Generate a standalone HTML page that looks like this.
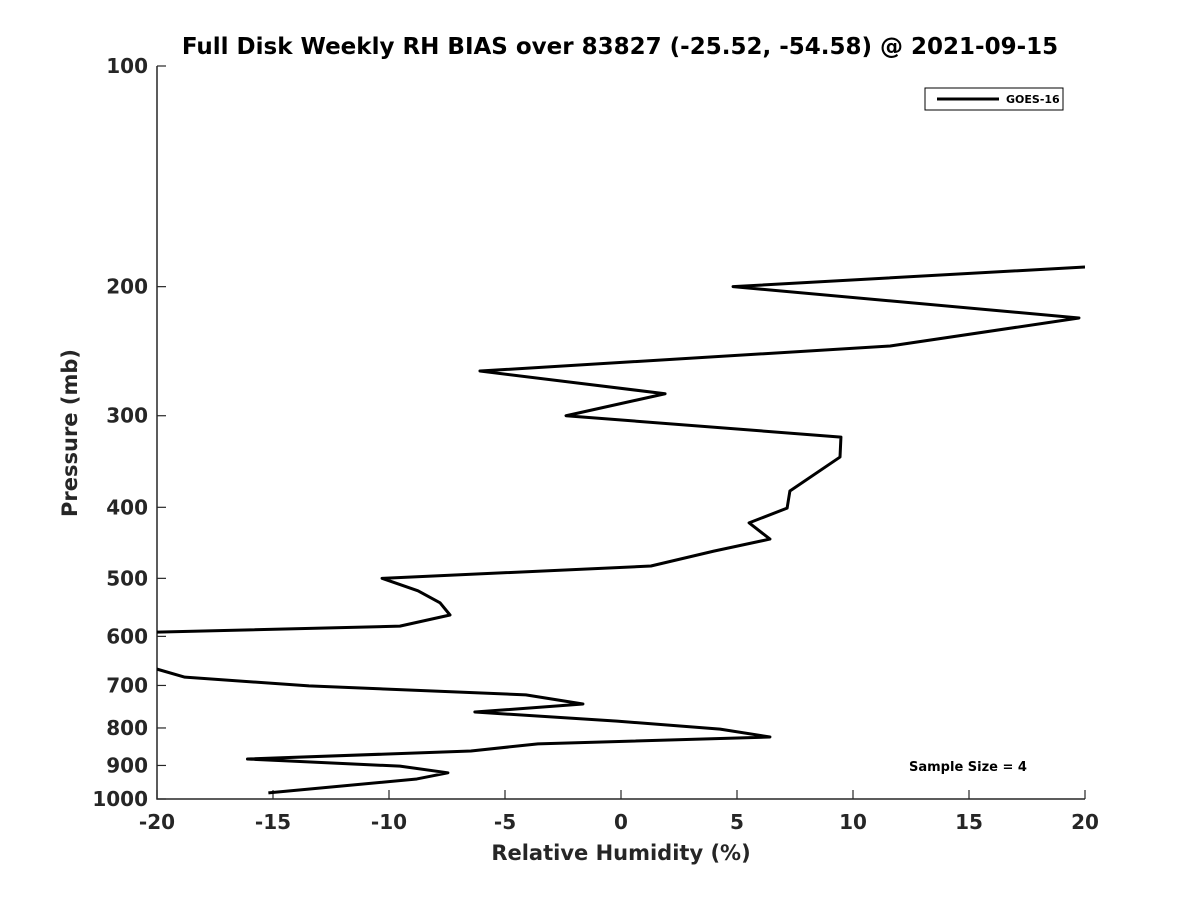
<!DOCTYPE html>
<html><head><meta charset="utf-8"><style>
body{margin:0;background:#fff;}
svg text{font-family:"DejaVu Sans","Liberation Sans",sans-serif;font-weight:bold;fill:#262626;}
</style></head><body>
<svg id="chart" width="1200" height="900" xmlns="http://www.w3.org/2000/svg">
<defs><clipPath id="plotclip"><rect x="157" y="66" width="928" height="733"/></clipPath></defs>
<text x="620" y="54" font-size="23" text-anchor="middle" style="fill:#000">Full Disk Weekly RH BIAS over 83827 (-25.52, -54.58) @ 2021-09-15</text>
<g id="axes"></g>
<polyline id="series" clip-path="url(#plotclip)" fill="none" stroke="#000" stroke-width="3" stroke-linejoin="round"/>
<g>
<rect x="925" y="88" width="138" height="22" fill="#fff" stroke="#000" stroke-width="1"/>
<line x1="937" y1="99" x2="999" y2="99" stroke="#000" stroke-width="3"/>
<text x="1006" y="103" font-size="11" style="fill:#000">GOES-16</text>
</g>
<text x="968" y="771" font-size="13" text-anchor="middle" style="fill:#000">Sample Size = 4</text>
<text x="621" y="860" font-size="21" text-anchor="middle">Relative Humidity (%)</text>
<text transform="translate(77,433) rotate(-90)" font-size="21" text-anchor="middle">Pressure (mb)</text>
</svg>
<script>
const xTicks=[-20,-15,-10,-5,0,5,10,15,20];
const yTicks=[100,200,300,400,500,600,700,800,900,1000];
const rhBias=[20,4.83,19.74,11.6,-6.08,1.9,-2.37,9.48,9.44,7.28,7.16,5.52,6.42,4.0,1.29,-10.3,-8.75,-7.8,-7.37,-9.53,-20,-24,-24,-20,-18.8,-13.45,-4.1,-1.64,-6.3,-0.17,4.27,6.42,-3.58,-6.47,-16.1,-9.53,-7.46,-8.8,-15.2];
const pressure=[188,200,220.7,241,260.7,280,300,320.8,341.6,380,401,420,442,459,481,500,520,540,561,581,592,600,655,665,682,701,721,742,761,783,803,823,841,860,882,902,921,939,981];
const X0=157,X1=1085,Y0=66,Y1=799;
const xs=v=>X0+(v+20)/40*(X1-X0);
const ys=p=>Y0+Math.log10(p/100)*(Y1-Y0);
const ns="http://www.w3.org/2000/svg";
const axes=document.getElementById('axes');
function mk(tag,attrs){const e=document.createElementNS(ns,tag);for(const k in attrs)e.setAttribute(k,attrs[k]);return e;}
const ax=mk('path',{d:`M${X0},${Y0}V${Y1}H${X1}`,fill:'none',stroke:'#262626','stroke-width':1.5});


axes.appendChild(ax);
xTicks.forEach(v=>{
  const x=xs(v);
  const t=mk('line',{x1:x,x2:x,y1:Y1,y2:Y1-9,stroke:'#262626','stroke-width':1.2});
  
  
  axes.appendChild(t);
  const l=mk('text',{x:x,y:Y1+30,'font-size':20,'text-anchor':'middle'});
  
  
  l.textContent=v;axes.appendChild(l);
});
yTicks.forEach(p=>{
  const y=ys(p);
  const t=mk('line',{x1:X0,x2:X0+9,y1:y,y2:y,stroke:'#262626','stroke-width':1.2});
  
  
  axes.appendChild(t);
  const l=mk('text',{x:X0-9,y:y+7,'font-size':20,'text-anchor':'end'});
  
  
  l.textContent=p;axes.appendChild(l);
});
document.getElementById('series').setAttribute('points',rhBias.map((v,i)=>xs(v)+','+ys(pressure[i])).join(' '));
</script>
</body></html>
